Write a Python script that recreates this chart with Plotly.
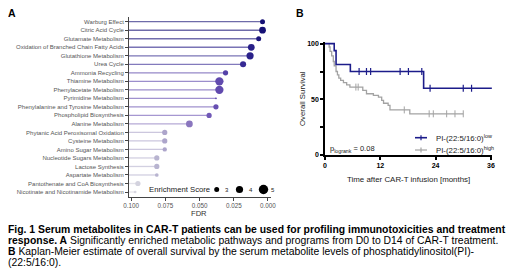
import plotly.graph_objects as go
from plotly.colors import sample_colorscale

# ---------------- Panel A data ----------------
pathways = [
    "Warburg Effect", "Citric Acid Cycle", "Glutamate Metabolism",
    "Oxidation of Branched Chain Fatty Acids", "Glutathione Metabolism", "Urea Cycle",
    "Ammonia Recycling", "Thiamine Metabolism", "Phenylacetate Metabolism",
    "Pyrimidine Metabolism", "Phenylalanine and Tyrosine Metabolism",
    "Phospholipid Biosynthesis", "Alanine Metabolism",
    "Phytanic Acid Peroxisomal Oxidation", "Cysteine Metabolism",
    "Amino Sugar Metabolism", "Nucleotide Sugars Metabolism", "Lactose Synthesis",
    "Aspartate Metabolism", "Pantothenate and CoA Biosynthesis",
    "Nicotinate and Nicotinamide Metabolism",
]
fdr = [0.0040, 0.0040, 0.0068, 0.0122, 0.0131, 0.0182,
       0.0310, 0.0355, 0.0355, 0.0380, 0.0380,
       0.0430, 0.0574, 0.0754, 0.0754, 0.0754,
       0.0812, 0.0812, 0.0812, 0.0950, 0.0970]
enrichment = [3.0, 3.8, 3.0, 3.8, 4.0, 3.5,
              3.1, 4.5, 4.5, 1.6, 3.1,
              3.1, 3.8, 3.1, 3.1, 2.7,
              3.1, 3.1, 2.4, 3.1, 1.95]
fdr_ticks = [0.100, 0.075, 0.050, 0.025, 0.000]
fdr_ticklabels = ["0.100", "0.075", "0.050", "0.025", "0.000"]
legend_scores = [3, 4, 5]

# ---------------- Panel B data ----------------
low_times = [0, 2.0, 2.4, 5.5, 21.4]
low_surv = [100, 93.75, 81.25, 75, 60]
low_end = 36.2
low_censor = [7.4, 9.0, 9.9, 16.3, 18.1, 21.0, 22.8, 30.0, 31.8]

high_times = [0, 0.9, 1.1, 1.45, 1.8, 2.0, 2.4, 2.7, 3.0, 3.4, 4.0, 4.7, 5.4,
              8.2, 9.0, 10.5, 11.6, 12.3, 12.7, 13.7, 14.1, 18.4]
high_surv = [100, 97, 93, 89, 84, 80, 75, 72, 69, 67, 65, 63, 61,
             58, 55, 53.5, 52, 49, 46.5, 44.5, 40.5, 37]
high_end = 30.0
high_censor = [6.7, 7.2, 17.2, 22.6, 23.5, 26.4, 28.2, 30.0]

km_xticks = [0, 12, 24, 36]
km_yticks = [0, 25, 50, 75, 100]
km_yticklabels = ["0", "", "50", "", "100"]

FONT = "Arial, Liberation Sans, sans-serif"
OFF = 8                     # page body margin of the html page
W, H = 520 - OFF, 275 - OFF

colorscale = [[0.0, "#0d0a6e"], [0.2, "#3a2d98"], [0.4, "#6c53b5"],
              [0.6, "#8e7bbf"], [0.8, "#b6b1cf"], [1.0, "#dddde3"]]
FDR_MAX = 0.1


def diam(score):
    return 2.2 * score - 1.6


def step_at(times, surv, t):
    v = surv[0]
    for ti, si in zip(times, surv):
        if ti <= t:
            v = si
    return v


def px(x):
    return (x - OFF) / W


def py(y):
    return 1 - (y - OFF) / H


fig = go.Figure()

# ---- Panel A: stems ----
x_left = 0.1015
dot_cols = sample_colorscale(colorscale, [f / FDR_MAX for f in fdr])
for p, f, c in zip(pathways, fdr, dot_cols):
    fig.add_trace(go.Scatter(
        x=[x_left, f], y=[p, p], mode="lines",
        line=dict(color=c, width=1.3), opacity=0.62,
        hoverinfo="skip", showlegend=False, xaxis="x", yaxis="y"))

fig.add_trace(go.Scatter(
    x=fdr, y=pathways, mode="markers",
    marker=dict(size=[diam(s) for s in enrichment], color=fdr,
                colorscale=colorscale, cmin=0, cmax=FDR_MAX,
                showscale=False, line=dict(width=0), opacity=1),
    showlegend=False, xaxis="x", yaxis="y"))

# ---- Panel B: KM curves ----
def km_xy(times, surv, end):
    return list(times) + [end], list(surv) + [surv[-1]]

hx, hy = km_xy(high_times, high_surv, high_end)
fig.add_trace(go.Scatter(x=hx, y=hy, mode="lines", line_shape="hv",
                         line=dict(color="#a3a3a3", width=1.3),
                         showlegend=False, xaxis="x2", yaxis="y2"))
fig.add_trace(go.Scatter(x=high_censor,
                         y=[step_at(high_times, high_surv, t) for t in high_censor],
                         mode="markers",
                         marker=dict(symbol="line-ns", size=5,
                                     line=dict(color="#a3a3a3", width=1)),
                         showlegend=False, xaxis="x2", yaxis="y2"))

lx, ly = km_xy(low_times, low_surv, low_end)
fig.add_trace(go.Scatter(x=lx, y=ly, mode="lines", line_shape="hv",
                         line=dict(color="#1c1c8a", width=1.6),
                         showlegend=False, xaxis="x2", yaxis="y2"))
fig.add_trace(go.Scatter(x=low_censor,
                         y=[step_at(low_times, low_surv, t) for t in low_censor],
                         mode="markers",
                         marker=dict(symbol="line-ns", size=5,
                                     line=dict(color="#1c1c8a", width=1.2)),
                         showlegend=False, xaxis="x2", yaxis="y2"))

# ---- legends as paper shapes ----
shapes = []
leg_dot_x = [216.7, 239.5, 263.5]
for cx, s in zip(leg_dot_x, legend_scores):
    r = diam(s) / 2
    shapes.append(dict(type="circle", xref="paper", yref="paper",
                       x0=px(cx - r), x1=px(cx + r), y0=py(189.5 + r), y1=py(189.5 - r),
                       fillcolor="black", line=dict(width=0)))
for yy, col, w in [(137.7, "#1c1c8a", 1.6), (150.0, "#a3a3a3", 1.2)]:
    shapes.append(dict(type="line", xref="paper", yref="paper",
                       x0=px(415), x1=px(427), y0=py(yy), y1=py(yy),
                       line=dict(color=col, width=w)))
    shapes.append(dict(type="line", xref="paper", yref="paper",
                       x0=px(421), x1=px(421), y0=py(yy - 2.5), y1=py(yy + 2.5),
                       line=dict(color=col, width=1.2)))

ann = []
def A(x, y, text, size, color="black", xanchor="center", yanchor="middle", angle=0):
    ann.append(dict(x=px(x), y=py(y), xref="paper", yref="paper", text=text,
                    showarrow=False, xanchor=xanchor, yanchor=yanchor, textangle=angle,
                    font=dict(size=size, color=color, family=FONT)))

for xl, s in zip([226.5, 250.5, 273], legend_scores):
    A(xl, 189.5, str(s), 6, "#222")
A(12, 13, "<b>A</b>", 10.5)
A(300, 13, "<b>B</b>", 10.5)
A(146.5, 189.5, "Enrichment Score", 7.7, "#222", xanchor="left")
A(199, 213, "FDR", 7.6, "#333")
A(303, 99, "Overall Survival", 7.8, "#222", angle=-90)
A(408, 179, "Time after CAR-T infusion [months]", 7.9, "#222")
A(327.5, 149, "p<sub>logrank</sub> = 0.08", 7.5, "#222", xanchor="left")
A(434, 137.7, "PI-(22:5/16:0)<sup>low</sup>", 7.8, "#222", xanchor="left")
A(434, 150, "PI-(22:5/16:0)<sup>high</sup>", 7.8, "#222", xanchor="left")

cap = [
    "<b>Fig. 1 Serum metabolites in CAR-T patients can be used for profiling immunotoxicities and treatment</b>",
    "<b>response. A</b> Significantly enriched metabolic pathways and programs from D0 to D14 of CAR-T treatment.",
    "<b>B</b> Kaplan-Meier estimate of overall survival by the serum metabolite levels of phosphatidylinositol(PI)-",
    "(22:5/16:0).",
]
for i, line in enumerate(cap):
    A(5.5, 229 + i * 11.3, line, 10.4, "black", xanchor="left")

fig.update_layout(
    template="none",
    width=W, height=H, autosize=False,
    margin=dict(l=0, r=0, t=0, b=0, pad=0),
    paper_bgcolor="white", plot_bgcolor="rgba(0,0,0,0)",
    font=dict(family=FONT),
    showlegend=False,
    annotations=ann,
    shapes=shapes,
    xaxis=dict(domain=[px(129), px(271)], range=[x_left, -0.0022],
               tickvals=fdr_ticks, ticktext=fdr_ticklabels,
               showline=True, linecolor="#444", linewidth=1,
               ticks="outside", ticklen=3, tickcolor="#444", tickwidth=1,
               tickfont=dict(size=6.3, color="#555"), showgrid=False, zeroline=False,
               automargin=False, anchor="y"),
    yaxis=dict(domain=[py(196.7), py(16.7)], range=[20.55, -0.59],
               type="category", categoryorder="array", categoryarray=pathways,
               showline=True, linecolor="#444", linewidth=1,
               ticks="outside", ticklen=3, tickcolor="#444", tickwidth=1,
               tickfont=dict(size=6.0, color="#555"), showgrid=False, zeroline=False,
               automargin=False, anchor="x"),
    xaxis2=dict(domain=[px(325), px(492.3)], range=[0, 36.3],
                tickvals=km_xticks, showline=True, linecolor="black", linewidth=1.5,
                ticks="outside", ticklen=3, tickwidth=1.5, tickcolor="black",
                tickfont=dict(size=7, color="black", weight="bold"),
                showgrid=False, zeroline=False, automargin=False, anchor="y2"),
    yaxis2=dict(domain=[py(155), py(42)], range=[0, 101.5],
                tickvals=km_yticks, ticktext=km_yticklabels,
                showline=True, linecolor="black", linewidth=1.5,
                ticks="outside", ticklen=3, tickwidth=1.5, tickcolor="black",
                tickfont=dict(size=7, color="black", weight="bold"),
                showgrid=False, zeroline=False, automargin=False, anchor="x2"),
)

fig.write_html("out.html")
